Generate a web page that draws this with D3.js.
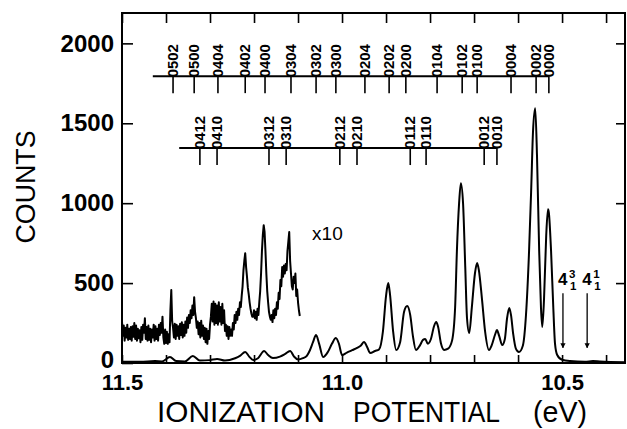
<!DOCTYPE html>
<html>
<head>
<meta charset="utf-8">
<style>
  body { margin: 0; background: #fff; }
  svg  { font-family: "Liberation Sans", Arial, sans-serif; }
</style>
<title>Ionization potential spectrum</title>
</head>
<body>
<script src="https://cdn.jsdelivr.net/npm/d3@7/dist/d3.min.js"></script>
<script>

// data //////////////////////////////////////////////////////////////////

// main trace (eV, counts)
var mainEnergy = [
	11.500, 11.459, 11.425, 11.409, 11.391, 11.377, 11.357, 11.339, 11.323, 11.300,
	11.284, 11.266, 11.243, 11.232, 11.220, 11.211, 11.202, 11.191, 11.177, 11.168,
	11.157, 11.141, 11.130, 11.118, 11.109, 11.100, 11.089, 11.080, 11.073, 11.066,
	11.059, 11.052, 11.043, 11.032, 11.023, 11.014, 11.007, 11.000, 10.989, 10.977,
	10.966, 10.957, 10.950, 10.943, 10.936, 10.925, 10.916, 10.907, 10.900, 10.895,
	10.891, 10.884, 10.877, 10.868, 10.859, 10.852, 10.845, 10.839, 10.832, 10.823,
	10.816, 10.811, 10.805, 10.798, 10.791, 10.786, 10.782, 10.775, 10.768, 10.759,
	10.750, 10.743, 10.739, 10.734, 10.730, 10.725, 10.720, 10.716, 10.711, 10.705,
	10.698, 10.693, 10.689, 10.682, 10.675, 10.666, 10.660, 10.652, 10.648, 10.643,
	10.636, 10.630, 10.625, 10.620, 10.616, 10.611, 10.605, 10.598, 10.589, 10.582,
	10.575, 10.570, 10.566, 10.561, 10.557, 10.552, 10.548, 10.545, 10.541, 10.536,
	10.532, 10.530, 10.525, 10.520, 10.516, 10.511, 10.500, 10.482, 10.448, 10.430,
	10.414, 10.357
];
var mainCounts = [
	8, 8, 12, 10, 37, 12, 10, 44, 15, 18,
	25, 15, 30, 45, 69, 40, 19, 30, 75, 50,
	31, 40, 55, 75, 40, 22, 30, 45, 80, 130,
	175, 120, 37, 70, 120, 156, 120, 50, 65, 80,
	94, 110, 131, 100, 62, 75, 85, 200, 420, 500,
	430, 200, 81, 130, 320, 356, 300, 170, 81, 110,
	145, 150, 120, 150, 230, 256, 230, 120, 82, 90,
	140, 350, 700, 1000, 1125, 1000, 600, 280, 187, 350,
	560, 625, 580, 400, 200, 81, 110, 180, 206, 170,
	112, 150, 280, 344, 300, 180, 90, 69, 110, 300,
	700, 1100, 1450, 1594, 1300, 700, 350, 225, 400, 800,
	962, 940, 700, 350, 120, 50, 20, 12, 8, 12,
	10, 5
];

// "x10" trace, one reading per channel of 0.002 eV from 11.5 eV (counts shown x10)
var x10Start = 11.5, x10Step = 0.002;
var x10Counts = [
	260, 170, 235, 140, 220, 160, 240, 145, 215, 150,
	225, 140, 230, 165, 250, 150, 235, 140, 215, 155,
	205, 130, 225, 145, 240, 190, 280, 150, 225, 140,
	235, 145, 215, 130, 210, 160, 240, 140, 230, 150,
	215, 140, 240, 175, 250, 190, 290, 160, 120, 210,
	125, 195, 120, 180, 130, 330, 456, 260, 220, 160,
	245, 150, 240, 170, 230, 150, 245, 175, 255, 160,
	240, 170, 260, 190, 285, 220, 300, 250, 330, 280,
	360, 300, 412, 320, 280, 220, 260, 180, 250, 160,
	265, 170, 235, 150, 220, 130, 215, 120, 200, 150,
	240, 290, 370, 260, 385, 240, 370, 250, 360, 240,
	380, 260, 350, 240, 370, 250, 330, 200, 240, 170,
	230, 150, 225, 170, 210, 170, 250, 210, 300, 250,
	320, 270, 340, 300, 380, 350, 420, 480, 580, 640,
	687, 600, 540, 470, 430, 380, 340, 310, 290, 290,
	330, 280, 320, 270, 340, 300, 380, 450, 560, 700,
	800, 862, 820, 700, 560, 450, 380, 320, 290, 270,
	300, 256, 330, 280, 340, 300, 380, 340, 440, 400,
	520, 480, 600, 540, 610, 560, 620, 580, 700, 760,
	819, 640, 560, 480, 460, 540, 500, 560, 420, 460,
	380, 330, 294
];

// assignment combs
var comb1Labels   = ["0502","0500","0404","0402","0400","0304","0302","0300","0204",
                     "0202","0200","0104","0102","0100","0004","0002","0000"];
var comb1Energies = [11.384, 11.336, 11.282, 11.220, 11.175, 11.116, 11.059, 11.014, 10.948,
                     10.893, 10.855, 10.784, 10.727, 10.693, 10.616, 10.559, 10.530];
var comb1Start = 11.430, comb1Level = 1795;

var comb2Labels   = ["0412","0410","0312","0310","0212","0210","0112","0110","0012","0010"];
var comb2Energies = [11.323, 11.284, 11.166, 11.127, 11.005, 10.966, 10.845, 10.809, 10.677, 10.648];
var comb2Start = 11.370, comb2Level = 1345;

// hot band arrows
var arrowEnergies = [10.498, 10.443];
var arrowSup      = ["3", "1"];
var arrowTop = 437, arrowTip = 95;

var xTicks = [11.5, 11.4, 11.3, 11.2, 11.1, 11.0, 10.9, 10.8, 10.7, 10.6, 10.5, 10.4];
var xTickLabels = {"11.5": "11.5", "11": "11.0", "10.5": "10.5"};
var yTicks = [0, 500, 1000, 1500, 2000];

// helpers //////////////////////////////////////////////////////////////////

var W = 627, H = 429;
var svg = d3.select('body').append('svg')
	.attr('width', W)
	.attr('height', H);

var x = d3.scaleLinear()
	.domain([11.5, 10.357])
	.range([122, 625]);

var y = d3.scaleLinear()
	.domain([0, 2190])
	.range([363, 13]);

svg.append('defs').append('marker')
	.attr('id', 'head')
	.attr('viewBox', '0 0 10 10')
	.attr('refX', 9).attr('refY', 5)
	.attr('markerWidth', 4).attr('markerHeight', 5)
	.attr('orient', 'auto')
	.append('path')
		.attr('d', 'M0,0L10,5L0,10z')
		.attr('fill', '#000');

// axes ////////////////////////////////////////////////////////////////////

function fmtX(d) { return xTickLabels[String(+d.toFixed(1))] || ''; }

svg.append('g')
	.attr('transform', `translate(0,${y(0)})`)
	.call(d3.axisBottom(x).tickValues(xTicks).tickSize(-8).tickPadding(11).tickFormat(fmtX))
	.call(g => g.select('.domain').remove())
	.call(g => g.selectAll('text').attr('font-size', 22).attr('font-weight', 'bold').attr('font-family', 'Liberation Sans'));

svg.append('g')
	.attr('transform', `translate(0,${y.range()[1]})`)
	.call(d3.axisTop(x).tickValues(xTicks).tickSize(-10).tickFormat(''))
	.call(g => g.select('.domain').remove());

svg.append('g')
	.attr('transform', `translate(${x.range()[0]},0)`)
	.call(d3.axisLeft(y).tickValues(yTicks).tickSize(-11).tickPadding(8).tickFormat(d3.format('d')))
	.call(g => g.select('.domain').remove())
	.call(g => g.selectAll('text').attr('font-size', 24).attr('font-weight', 'bold').attr('font-family', 'Liberation Sans')
		.attr('dy', d => d === 0 ? '0.2em' : '0.32em'));

svg.append('g')
	.attr('transform', `translate(${x.range()[1]},0)`)
	.call(d3.axisRight(y).tickValues(yTicks.slice(1)).tickSize(-9).tickFormat(''))
	.call(g => g.select('.domain').remove());

svg.selectAll('.tick line').attr('stroke', '#000').attr('stroke-width', 1.6);

svg.append('rect')
	.attr('x', x.range()[0]).attr('y', y.range()[1])
	.attr('width', x.range()[1] - x.range()[0])
	.attr('height', y.range()[0] - y.range()[1])
	.attr('fill', 'none')
	.attr('stroke', '#000')
	.attr('stroke-width', 2);

// axis titles
svg.append('text')
	.attr('transform', 'translate(35,187) rotate(-90)')
	.attr('text-anchor', 'middle')
	.attr('font-size', 27)
	.attr('textLength', 113).attr('lengthAdjust', 'spacingAndGlyphs')
	.text('COUNTS');

[['IONIZATION', 157, 168], ['POTENTIAL', 353, 147], ['(eV)', 533, 54]].forEach(w => {
	svg.append('text')
		.attr('x', w[1]).attr('y', 422)
		.attr('font-size', 29)
		.attr('textLength', w[2]).attr('lengthAdjust', 'spacingAndGlyphs')
		.text(w[0]);
});

// traces //////////////////////////////////////////////////////////////////

var mainPts = mainEnergy.map((e, i) => [e, mainCounts[i]]);
var x10Pts  = x10Counts.map((c, i) => [x10Start - i * x10Step, c]);

svg.append('path')
	.attr('d', d3.line().x(d => x(d[0])).y(d => y(d[1])).curve(d3.curveMonotoneX)(mainPts))
	.attr('fill', 'none')
	.attr('stroke', '#000')
	.attr('stroke-width', 2)
	.attr('stroke-linejoin', 'round');

svg.append('path')
	.attr('d', d3.line().x(d => x(d[0])).y(d => y(d[1]))(x10Pts))
	.attr('fill', 'none')
	.attr('stroke', '#000')
	.attr('stroke-width', 2)
	.attr('stroke-linejoin', 'round');

svg.append('text')
	.attr('x', x(11.068)).attr('y', y(769))
	.attr('font-size', 19)
	.text('x10');

// assignment combs ////////////////////////////////////////////////////////

function comb(labels, energies, start, level) {
	var g = svg.append('g');
	var ly = y(level);
	g.append('line')
		.attr('x1', x(start)).attr('x2', x(energies[energies.length - 1]))
		.attr('y1', ly).attr('y2', ly)
		.attr('stroke', '#000').attr('stroke-width', 2);
	g.selectAll('.tk').data(energies).join('line')
		.attr('x1', d => x(d)).attr('x2', d => x(d))
		.attr('y1', ly).attr('y2', ly + 17)
		.attr('stroke', '#000').attr('stroke-width', 1.6);
	g.selectAll('text').data(labels).join('text')
		.attr('transform', (d, i) => `translate(${x(energies[i]) + 5},${ly + 1}) rotate(-90)`)
		.attr('font-size', 14.5)
		.attr('font-weight', 'bold')
		.attr('textLength', 33).attr('lengthAdjust', 'spacingAndGlyphs')
		.text(d => d);
}
comb(comb1Labels, comb1Energies, comb1Start, comb1Level);
comb(comb2Labels, comb2Energies, comb2Start, comb2Level);

// arrows //////////////////////////////////////////////////////////////////

arrowEnergies.forEach((e, i) => {
	var ax = x(e);
	svg.append('line')
		.attr('x1', ax).attr('x2', ax)
		.attr('y1', y(arrowTop)).attr('y2', y(arrowTip))
		.attr('stroke', '#000').attr('stroke-width', 1.3)
		.attr('marker-end', 'url(#head)');
	svg.append('text')
		.attr('x', ax - 5).attr('y', y(arrowTop) - 8)
		.attr('font-size', 17).attr('font-weight', 'bold')
		.text('4');
	svg.append('text')
		.attr('x', ax + 6).attr('y', y(arrowTop) - 15)
		.attr('font-size', 11.5).attr('font-weight', 'bold')
		.text(arrowSup[i]);
	svg.append('text')
		.attr('x', ax + 7).attr('y', y(arrowTop) - 3)
		.attr('font-size', 11.5).attr('font-weight', 'bold')
		.text('1');
});

</script>
</body>
</html>
